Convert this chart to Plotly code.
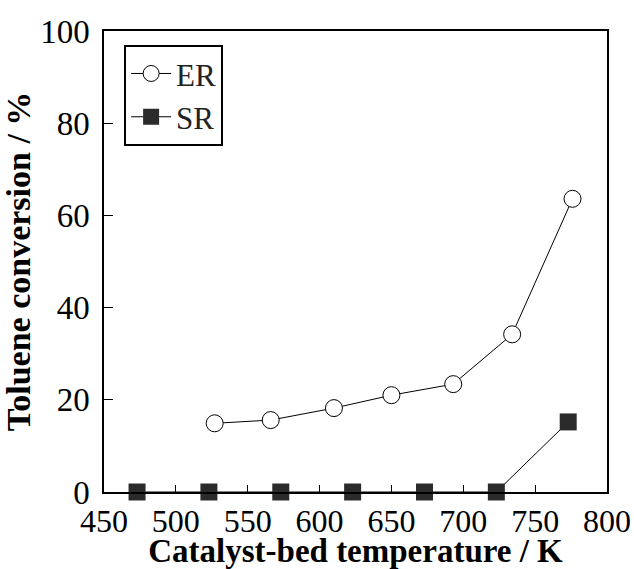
import plotly.graph_objects as go

er_temp = [527, 566, 610, 650, 693, 734, 776]
er_conv = [14.9, 15.6, 18.2, 21.0, 23.4, 34.2, 63.6]
sr_temp = [473, 523, 573, 623, 673, 723, 773]
sr_conv = [0, 0, 0, 0, 0, 0, 15.2]

x_ticks = [450, 500, 550, 600, 650, 700, 750, 800]
y_ticks = [0, 20, 40, 60, 80, 100]

font_family = "Liberation Serif, Times New Roman, serif"

fig = go.Figure()
fig.add_trace(go.Scatter(
    x=er_temp, y=er_conv, name="ER", mode="lines+markers",
    line=dict(color="black", width=1),
    marker=dict(symbol="circle", size=17, color="white", line=dict(color="black", width=1)),
    cliponaxis=False,
))
fig.add_trace(go.Scatter(
    x=sr_temp, y=sr_conv, name="SR", mode="lines+markers",
    line=dict(color="black", width=1),
    marker=dict(symbol="square", size=17, color="#2b2b2b", line=dict(color="#2b2b2b", width=0)),
    cliponaxis=False,
))

fig.update_layout(
    width=634, height=569,
    margin=dict(l=104, r=27, t=31, b=77),
    paper_bgcolor="white", plot_bgcolor="white",
    font=dict(family=font_family, size=32, color="black"),
    showlegend=True,
    legend=dict(
        x=0.04, y=0.97, xanchor="left", yanchor="top",
        bordercolor="black", borderwidth=2, bgcolor="white",
        font=dict(family=font_family, size=31, color="#222"),
        itemwidth=40, tracegroupgap=0,
    ),
    xaxis=dict(
        range=[450, 800], tickvals=x_ticks, ticktext=[str(v) for v in x_ticks],
        ticks="inside", ticklen=7, tickwidth=1, tickcolor="black",
        showline=True, linecolor="black", linewidth=1.5, mirror=True,
        showgrid=False, zeroline=False, automargin=False,
        tickfont=dict(family=font_family, size=32, color="black"),
        title=dict(text="<b>Catalyst-bed temperature / K</b>", standoff=3,
                   font=dict(family=font_family, size=33, color="black")),
    ),
    yaxis=dict(
        range=[0, 100], tickvals=y_ticks, ticktext=[str(v) for v in y_ticks],
        ticks="inside", ticklen=9, tickwidth=1, tickcolor="black",
        showline=True, linecolor="black", linewidth=1.5, mirror=True,
        showgrid=False, zeroline=False, automargin=False,
        tickfont=dict(family=font_family, size=33, color="black"),
        ticklabelstandoff=6,
        title=dict(text="<b>Toluene conversion / %</b>", standoff=4,
                   font=dict(family=font_family, size=34, color="black")),
    ),
)

fig.write_html(
    "out.html",
    config={"displayModeBar": False},
    post_script="document.body.style.margin='0';document.body.style.padding='0';",
)
